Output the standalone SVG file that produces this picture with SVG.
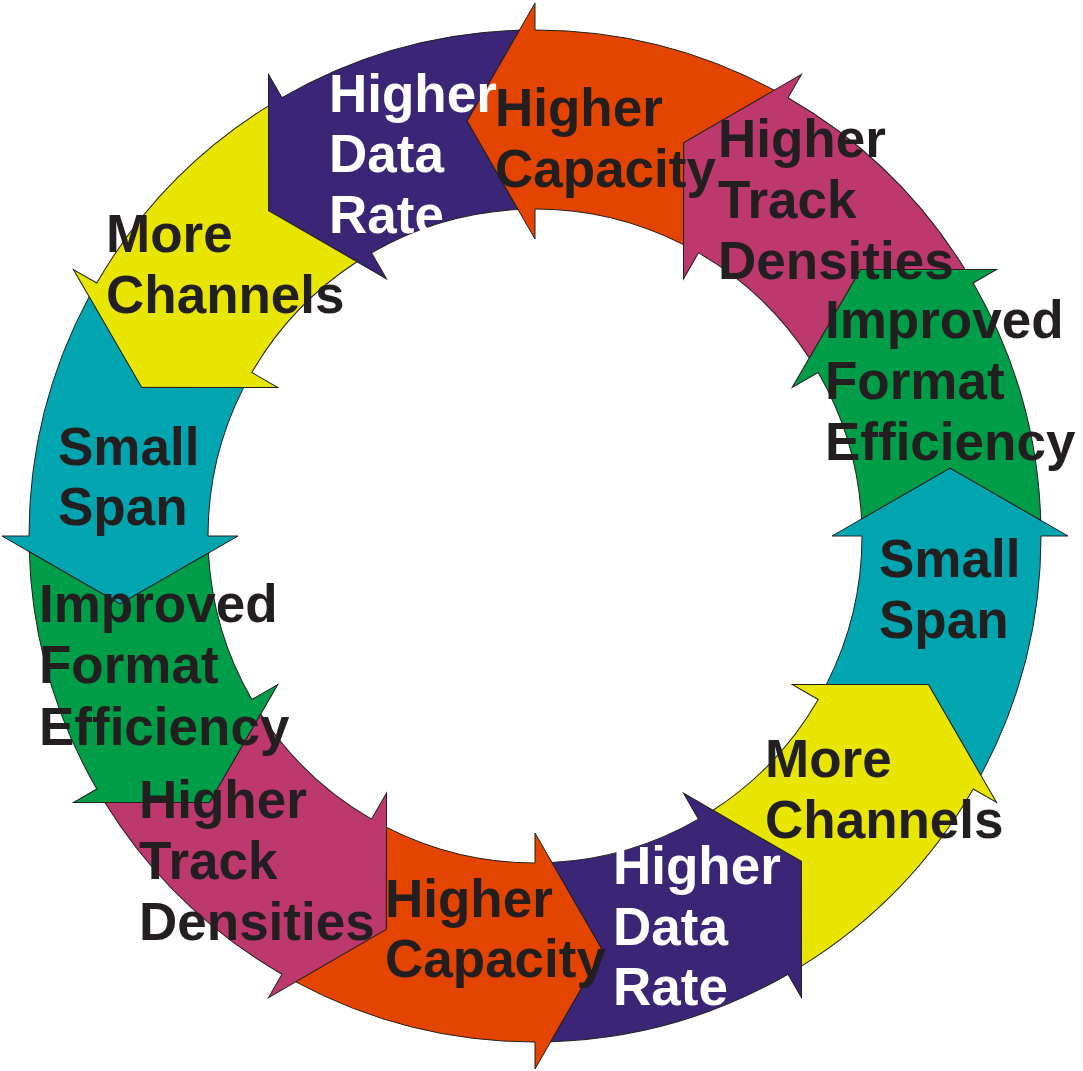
<svg xmlns="http://www.w3.org/2000/svg" xmlns:xlink="http://www.w3.org/1999/xlink" width="1083" height="1071" viewBox="0 0 1083 1071">
  <style>
    .seg { stroke: #231f20; stroke-width: 1; stroke-linejoin: miter; }
    .teal { fill: #00a5af; }
    .green { fill: #009d48; }
    .magenta { fill: #bd386d; }
    .orange { fill: #e34500; }
    .purple { fill: #3a2577; }
    .yellow { fill: #e8e500; }
    .lbl { font-family: "Liberation Sans", Arial, sans-serif; font-weight: bold; font-size: 53px; fill: #231f20; }
    .lbl.light { fill: #ffffff; }
  </style>
  <defs>
    <!-- One 30-degree ring segment: head base on the +x axis, head pointing
         counter-clockwise; the tail notch is the head shape turned by 30 degrees,
         so neighbouring segments interlock exactly. Origin = ring centre. -->
    <path id="arrow" class="seg"
          d="M 415 -68 L 533 0 L 506 0 A 506 506 0 0 1 445.85 239.28 L 393.4 148.61 L 291.32 148.53 A 327 327 0 0 0 327 0 L 297 0 Z"/>
  </defs>

  <rect width="1083" height="1071" fill="#ffffff"/>

  <!-- ring segments -->
  <g id="segments">
    <g id="small-span-right"><use href="#arrow" xlink:href="#arrow" class="teal" transform="translate(535 536) rotate(0)"/></g>
    <g id="format-efficiency-right"><use href="#arrow" xlink:href="#arrow" class="green" transform="translate(535 536) rotate(-30)"/></g>
    <g id="track-densities-right"><use href="#arrow" xlink:href="#arrow" class="magenta" transform="translate(535 536) rotate(-60)"/></g>
    <g id="capacity-top"><use href="#arrow" xlink:href="#arrow" class="orange" transform="translate(535 536) rotate(-90)"/></g>
    <g id="data-rate-top"><use href="#arrow" xlink:href="#arrow" class="purple" transform="translate(535 536) rotate(-120)"/></g>
    <g id="channels-top"><use href="#arrow" xlink:href="#arrow" class="yellow" transform="translate(535 536) rotate(-150)"/></g>
    <g id="small-span-left"><use href="#arrow" xlink:href="#arrow" class="teal" transform="translate(535 536) rotate(180)"/></g>
    <g id="format-efficiency-left"><use href="#arrow" xlink:href="#arrow" class="green" transform="translate(535 536) rotate(150)"/></g>
    <g id="track-densities-left"><use href="#arrow" xlink:href="#arrow" class="magenta" transform="translate(535 536) rotate(120)"/></g>
    <g id="capacity-bottom"><use href="#arrow" xlink:href="#arrow" class="orange" transform="translate(535 536) rotate(90)"/></g>
    <g id="data-rate-bottom"><use href="#arrow" xlink:href="#arrow" class="purple" transform="translate(535 536) rotate(60)"/></g>
    <g id="channels-bottom"><use href="#arrow" xlink:href="#arrow" class="yellow" transform="translate(535 536) rotate(30)"/></g>
  </g>

  <!-- labels sit above every segment, since several overlap their neighbours -->
  <g id="labels">
    <g id="small-span-right-label"><text class="lbl"><tspan x="879" y="577">Small</tspan><tspan x="879" y="638">Span</tspan></text></g>
    <g id="format-efficiency-right-label"><text class="lbl"><tspan x="825" y="338">Improved</tspan><tspan x="825" y="399">Format</tspan><tspan x="825" y="460">Efficiency</tspan></text></g>
    <g id="track-densities-right-label"><text class="lbl"><tspan x="718" y="157">Higher</tspan><tspan x="718" y="218">Track</tspan><tspan x="718" y="279">Densities</tspan></text></g>
    <g id="capacity-top-label"><text class="lbl"><tspan x="495" y="126">Higher</tspan><tspan x="495" y="187">Capacity</tspan></text></g>
    <g id="data-rate-top-label"><text class="lbl light"><tspan x="329" y="112">Higher</tspan><tspan x="329" y="172">Data</tspan><tspan x="329" y="233">Rate</tspan></text></g>
    <g id="channels-top-label"><text class="lbl"><tspan x="106" y="252">More</tspan><tspan x="106" y="313">Channels</tspan></text></g>
    <g id="small-span-left-label"><text class="lbl"><tspan x="58" y="465">Small</tspan><tspan x="58" y="525">Span</tspan></text></g>
    <g id="format-efficiency-left-label"><text class="lbl"><tspan x="39" y="622">Improved</tspan><tspan x="39" y="683">Format</tspan><tspan x="39" y="745">Efficiency</tspan></text></g>
    <g id="track-densities-left-label"><text class="lbl"><tspan x="139" y="818">Higher</tspan><tspan x="139" y="879">Track</tspan><tspan x="139" y="940">Densities</tspan></text></g>
    <g id="capacity-bottom-label"><text class="lbl"><tspan x="385" y="917">Higher</tspan><tspan x="385" y="977">Capacity</tspan></text></g>
    <g id="data-rate-bottom-label"><text class="lbl light"><tspan x="613" y="884">Higher</tspan><tspan x="613" y="945">Data</tspan><tspan x="613" y="1005">Rate</tspan></text></g>
    <g id="channels-bottom-label"><text class="lbl"><tspan x="765" y="777">More</tspan><tspan x="765" y="838">Channels</tspan></text></g>
  </g>
</svg>
